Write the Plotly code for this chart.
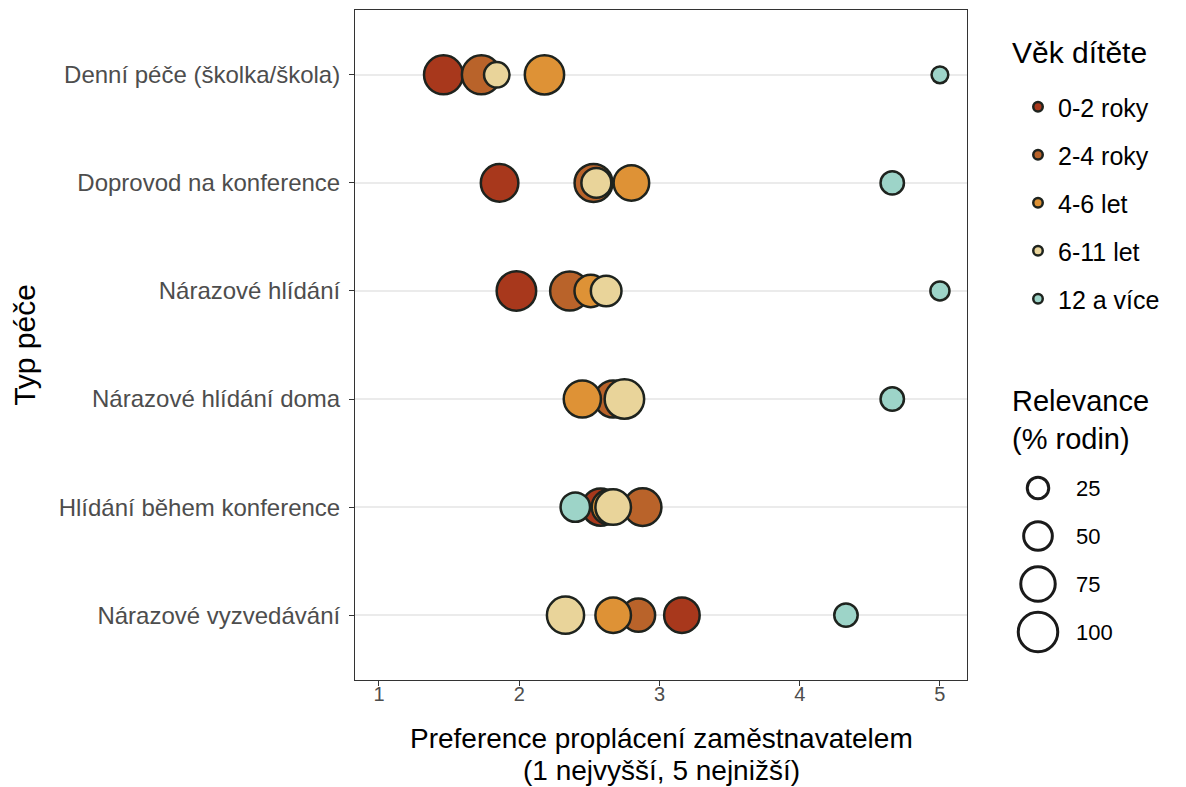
import plotly.graph_objects as go
import numpy as np

care_types = ["Denní péče (školka/škola)", "Doprovod na konference", "Nárazové hlídání",
              "Nárazové hlídání doma", "Hlídání během konference", "Nárazové vyzvedávání"]
age_groups = ["0-2 roky", "2-4 roky", "4-6 let", "6-11 let", "12 a více"]
colors = ["#A8381C", "#B9632A", "#DE9236", "#E9D49A", "#9DD4C8"]

# preference (1 highest, 5 lowest) per care type, by age group
pref_0_2 = [1.46, 1.86, 1.98, 2.72, 2.58, 3.16]
pref_2_4 = [1.73, 2.53, 2.36, 2.67, 2.88, 2.85]
pref_4_6 = [2.18, 2.80, 2.51, 2.45, 2.64, 2.67]
pref_6_11 = [1.84, 2.55, 2.62, 2.75, 2.67, 2.33]
pref_12 = [5.00, 4.66, 5.00, 4.66, 2.40, 4.33]

# relevance (% of families)
rel_0_2 = [97, 90, 100, 60, 88, 80]
rel_2_4 = [97, 92, 98, 88, 90, 70]
rel_4_6 = [99, 80, 66, 88, 75, 80]
rel_6_11 = [38, 55, 58, 100, 80, 88]
rel_12 = [12, 31, 18, 31, 53, 31]

size_breaks = [25, 50, 75, 100]
x_ticks = [1, 2, 3, 4, 5]

x_title_lines = ["Preference proplácení zaměstnavatelem", "(1 nejvyšší, 5 nejnižší)"]

prefs = [pref_0_2, pref_2_4, pref_4_6, pref_6_11, pref_12]
rels = [rel_0_2, rel_2_4, rel_4_6, rel_6_11, rel_12]

LINE_W = 2.5
BORDER = "#1e231e"


def marker_size(v):
    v = np.asarray(v, dtype=float)
    outer = np.sqrt(180 + 15.84 * v)
    return outer - LINE_W


OFF = 8  # page body margin
W, H = 1186, 787
L, T = 355 - OFF, 10 - OFF
B = H - (680 - OFF)
R = 18
plot_w = W - L - R
plot_h = H - T - B
panel_w = 612


def sx(px):
    """screen x pixel -> figure pixel"""
    return px - OFF


def sy(py):
    return py - OFF


def paper_y(py):
    return (H - B - sy(py)) / plot_h


fig = go.Figure()

for name, col, xs, rs in zip(age_groups, colors, prefs, rels):
    fig.add_trace(go.Scatter(
        x=xs, y=care_types, mode="markers", name=name, showlegend=False,
        marker=dict(size=marker_size(rs), color=col, opacity=1,
                    line=dict(color=BORDER, width=LINE_W)),
        hovertemplate="%{y}<br>%{x}<extra>" + name + "</extra>",
    ))

# legend entries for colour
for name, col in zip(age_groups, colors):
    fig.add_trace(go.Scatter(
        x=[None], y=[None], mode="markers", name=name, legendgroup=name,
        marker=dict(size=9.5, color=col, line=dict(color=BORDER, width=2.5)),
    ))

# size legend on an auxiliary axis (figure pixel coordinates)
size_y = [sy(488 + 48 * i) for i in range(len(size_breaks))]
fig.add_trace(go.Scatter(
    x=[sx(1038)] * len(size_breaks), y=size_y, mode="markers", showlegend=False,
    marker=dict(size=marker_size(size_breaks), color="white", opacity=1,
                line=dict(color="#1a1a1a", width=3)),
    xaxis="x2", yaxis="y2", hoverinfo="skip",
))
for yy, b in zip(size_y, size_breaks):
    fig.add_annotation(x=sx(1074), y=yy, xref="x2", yref="y2", text=str(b), showarrow=False,
                       xanchor="left", yanchor="middle", font=dict(size=22, color="black"))
fig.add_annotation(x=sx(1010), y=sy(383), xref="x2", yref="y2", text="Relevance<br>(% rodin)",
                   showarrow=False, xanchor="left", yanchor="top", align="left",
                   font=dict(size=29, color="black"))
# colour legend title
fig.add_annotation(x=sx(1010), y=sy(52), xref="x2", yref="y2", text="Věk dítěte",
                   showarrow=False, xanchor="left", yanchor="middle", align="left",
                   font=dict(size=30, color="black"))

# x axis title (two lines, tight spacing)
for txt, py in zip(x_title_lines, [738, 770]):
    fig.add_annotation(x=0.5, xref="x domain", y=paper_y(py), yref="paper", text=txt,
                       showarrow=False, xanchor="center", yanchor="middle",
                       font=dict(size=28, color="black"))

fig.update_layout(
    width=W, height=H, plot_bgcolor="white", paper_bgcolor="white",
    margin=dict(l=L, r=R, t=T, b=B),
    font=dict(family="Liberation Sans, Arial, sans-serif", color="black"),
    xaxis=dict(domain=[0, panel_w / plot_w], range=[0.829, 5.193], tickvals=x_ticks,
               showgrid=False, zeroline=False, showline=True, linecolor="#333333",
               linewidth=1, mirror=True, ticks="outside", ticklen=5, tickcolor="#333333",
               tickfont=dict(size=20, color="#4d4d4d"), ticklabelstandoff=-9),
    yaxis=dict(categoryorder="array", categoryarray=care_types, autorange=False,
               range=[5.6, -0.6], showgrid=True, gridcolor="#ebebeb", gridwidth=2,
               zeroline=False, showline=True, mirror=True, linecolor="#333333", linewidth=1,
               ticks="outside", ticklen=5, tickcolor="#333333",
               tickfont=dict(size=24, color="#4d4d4d"), ticklabelstandoff=4,
               title=dict(text="Typ péče", font=dict(size=30, color="black"), standoff=20)),
    xaxis2=dict(domain=[(sx(1000) - L) / plot_w, 1], range=[sx(1000), W - R], visible=False,
                anchor="y2", fixedrange=True),
    yaxis2=dict(domain=[0, 1], range=[H - B, T], visible=False, anchor="x2", fixedrange=True),
    legend=dict(x=(sx(1018) - L) / plot_w, y=paper_y(84), xanchor="left", yanchor="top",
                font=dict(size=25, color="black"), tracegroupgap=12.5,
                itemsizing="trace", bgcolor="rgba(0,0,0,0)"),
)

fig.write_html("out.html")
